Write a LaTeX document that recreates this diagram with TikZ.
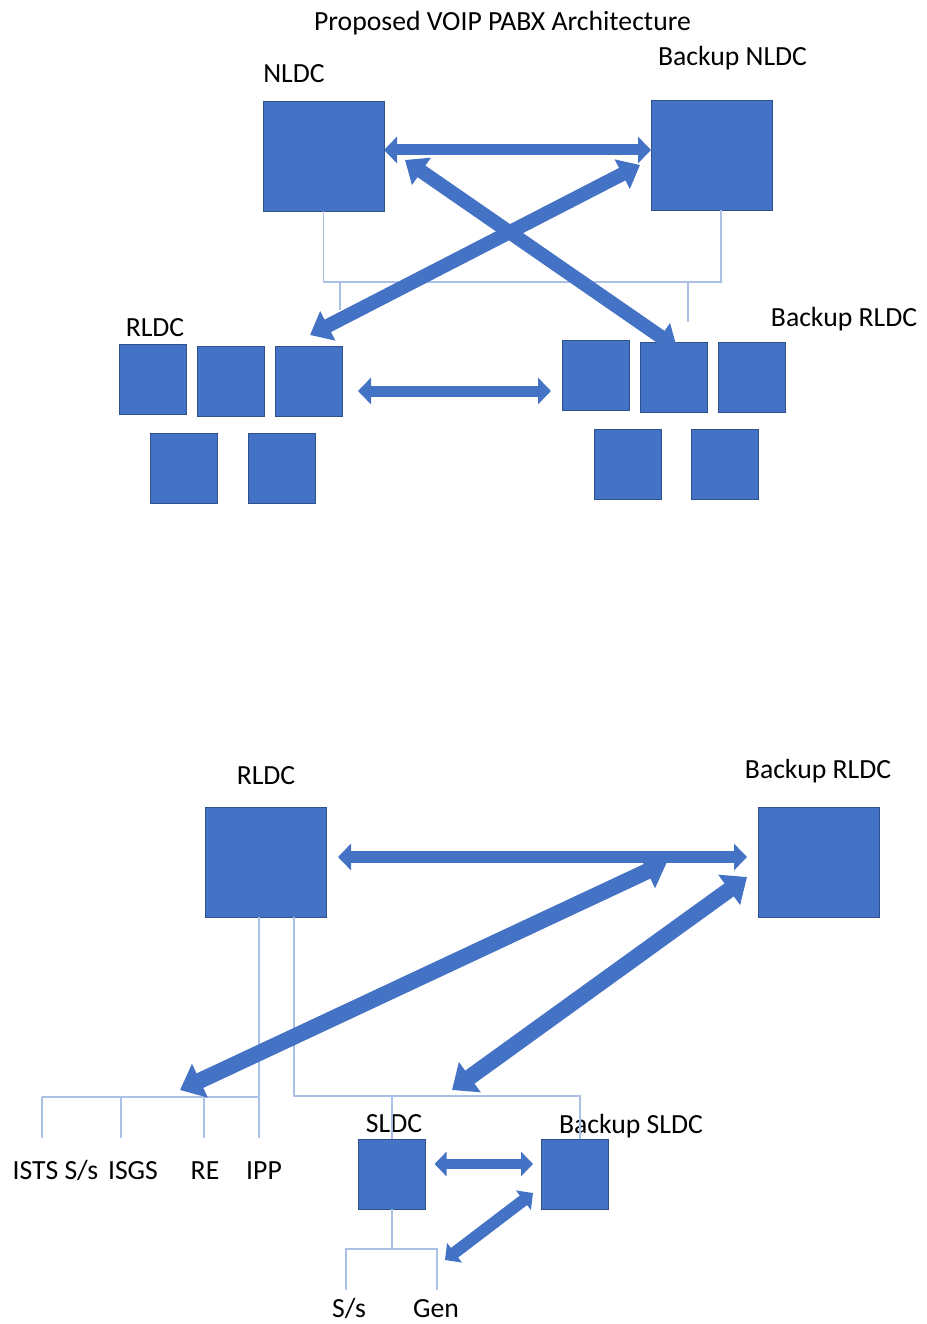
\documentclass[tikz,border=0pt]{standalone}
\usepackage{fontspec}
\setmainfont{Carlito}
\usepackage{tikz}
\usetikzlibrary{arrows.meta}
\definecolor{boxblue}{RGB}{68, 114, 196}
\definecolor{edgeblue}{RGB}{47, 82, 143}
\definecolor{linkblue}{RGB}{170, 192, 230}

\begin{document}
\begin{tikzpicture}[
    x=1pt, y=-1pt,
    every node/.style={font=\fontsize{27.7}{33}\selectfont},
    caption/.style={
        anchor=base,
        inner sep=0pt
    },
    bigbox/.style={
        rectangle,
        draw=edgeblue,
        line width=0.5pt,
        fill=boxblue,
        minimum width=121pt,
        minimum height=110pt,
        inner sep=0pt,
        outer sep=0pt
    },
    smallbox/.style={
        bigbox,
        minimum width=67pt,
        minimum height=70pt
    },
    link/.style={
        draw=linkblue,
        line width=1.2pt
    },
    flow/.style={
        draw=boxblue,
        line width=11pt,
        {Triangle[length=13pt, width=26pt]}-{Triangle[length=13pt, width=26pt]}
    },
    crossflow/.style={
        draw=boxblue,
        line width=14pt,
        {Triangle[length=20pt, width=32pt]}-{Triangle[length=20pt, width=32pt]}
    },
    heavyflow/.style={
        draw=boxblue,
        line width=16pt,
        {Triangle[length=22pt, width=36pt]}-{Triangle[length=22pt, width=36pt]}
    },
    smallflow/.style={
        draw=boxblue,
        line width=10pt,
        {Triangle[length=12pt, width=24pt]}-{Triangle[length=12pt, width=24pt]}
    }
]
\useasboundingbox (0,0) rectangle (926,1324);

% ==================== UPPER PART: NLDC / RLDC ====================

\node (title) [caption] at (502.5, 31) {Proposed VOIP PABX Architecture};

\node (nldc) [bigbox] at (323.5, 156.5) {};
\node (nldc_lbl) [caption] at (294, 83) {NLDC};
\node (bnldc) [bigbox] at (711.5, 155) {};
\node (bnldc_lbl) [caption] at (732.5, 66) {Backup NLDC};

% RLDC group
\node (rldc_a) [smallbox] at (152.5, 379) {};
\node (rldc_b) [smallbox] at (230.5, 381) {};
\node (rldc_c) [smallbox] at (308.5, 381) {};
\node (rldc_d) [smallbox] at (184, 468) {};
\node (rldc_e) [smallbox] at (281.5, 468) {};
\node (rldc_lbl) [caption] at (155, 336) {RLDC};

% Backup RLDC group
\node (brldc_a) [smallbox] at (595.5, 375) {};
\node (brldc_b) [smallbox] at (673.5, 377) {};
\node (brldc_c) [smallbox] at (751.5, 377) {};
\node (brldc_d) [smallbox] at (627.5, 464) {};
\node (brldc_e) [smallbox] at (724.5, 464) {};
\node (brldc_lbl) [caption] at (844, 326) {Backup RLDC};

% thin links
\coordinate (bus_top) at (0, 282);
\coordinate (rldc_tap) at (340, 310);
\coordinate (brldc_tap) at (688, 322);
\draw [link] ([xshift=9.5pt]bnldc.south) |- (nldc.south |- bus_top) -- (nldc.south);
\draw [link] (rldc_tap) -- (rldc_tap |- bus_top);
\draw [link] (brldc_tap) -- (brldc_tap |- bus_top);

% block arrows
\draw [flow] ([yshift=6.5pt]nldc.east) -- ([yshift=5pt]bnldc.west);
\draw [crossflow] ([xshift=21pt, yshift=-3.5pt]nldc.east) -- ([xshift=3.5pt, yshift=-6pt]brldc_b.north);
\draw [crossflow] ([xshift=-11pt, yshift=-10pt]bnldc.west) -- ([xshift=1.5pt, yshift=11pt]rldc_c.north);
\draw [flow] ([xshift=16pt, yshift=-10pt]rldc_c.east) -- ([xshift=-11pt, yshift=-16pt]brldc_a.west);


% ==================== LOWER PART: RLDC / SLDC ====================

\node (rldc2) [bigbox] at (265.5, 862) {};
\node (rldc2_lbl) [caption] at (266, 784) {RLDC};
\node (brldc2) [bigbox] at (818.5, 862) {};
\node (brldc2_lbl) [caption] at (818, 778) {Backup RLDC};

\node (sldc) [smallbox] at (392, 1174) {};
\node (sldc_lbl) [caption] at (394, 1132) {SLDC};
\node (bsldc) [smallbox] at (574.5, 1174) {};
\node (bsldc_lbl) [caption] at (631, 1133) {Backup SLDC};

% entity captions
\node (ists) [caption] at (55.5, 1179) {ISTS S/s};
\node (isgs) [caption] at (133, 1179) {ISGS};
\node (re) [caption] at (205, 1179) {RE};
\node (ipp) [caption] at (264, 1179) {IPP};
\node (subst) [caption] at (349, 1317) {S/s};
\node (gen) [caption] at (436, 1317) {Gen};

% thin links
\coordinate (bus_left) at (0, 1097);
\coordinate (bus_right) at (0, 1096);
\coordinate (bus_sldc) at (0, 1249);
\coordinate (bsldc_tap) at ([xshift=5.5pt]bsldc.north);
\draw [link] ([xshift=-6.5pt]rldc2.south) -- (259, 1138);
\draw [link] (259, 1097) -- (42, 1097);
\draw [link] (42, 1097) -- (42, 1138);
\draw [link] (121, 1097) -- (121, 1138);
\draw [link] (204, 1097) -- (204, 1138);
\draw [link] ([xshift=28.5pt]rldc2.south) |- (bsldc_tap |- bus_right) -- (bsldc_tap);
\draw [link] (sldc.north |- bus_right) -- (sldc.north);
\draw [link] (sldc.south) -- (sldc.south |- bus_sldc);
\draw [link] (346, 1290) |- (437, 1249) -- (437, 1290);

% block arrows
\coordinate (hub_tip) at (667, 862);
\coordinate (re_tip) at (180, 1090);
\coordinate (bus_tip) at (452, 1090);
\coordinate (gen_tip) at (445, 1260);
\draw [flow, line width=12pt] ([xshift=12pt, yshift=5pt]rldc2.east) -- ([xshift=-11pt, yshift=5pt]brldc2.west);
\draw [heavyflow] (hub_tip) -- (re_tip);
\draw [heavyflow] ([xshift=-11pt, yshift=-15pt]brldc2.west) -- (bus_tip);
\draw [smallflow] ([xshift=9pt, yshift=10pt]sldc.east) -- ([xshift=-8pt, yshift=10pt]bsldc.west);
\draw [smallflow, line width=12pt] ([xshift=-8pt, yshift=-19pt]bsldc.west) -- (gen_tip);

\end{tikzpicture}
\end{document}
